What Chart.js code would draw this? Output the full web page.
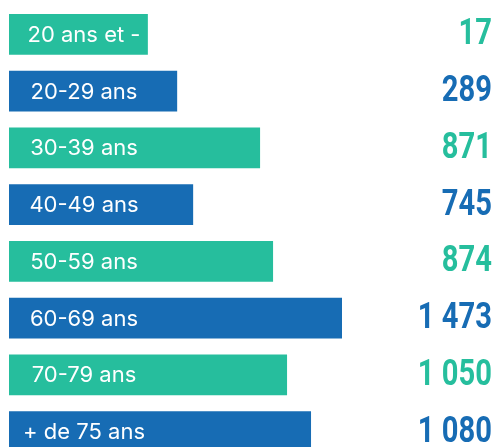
<!DOCTYPE html>
<html>
<head>
<meta charset="utf-8">
<script src="https://cdn.jsdelivr.net/npm/chart.js@4"></script>
<style>
  html, body { margin: 0; padding: 0; background: #fff; overflow: hidden; }
  #wrap { width: 495px; height: 447px; overflow: hidden; }
</style>
</head>
<body>
<div id="wrap"><canvas id="ageChart" width="495" height="460"></canvas></div>
<script>
// age groups and counts shown on the right
const ageGroups = ['20 ans et -', '20-29 ans', '30-39 ans', '40-49 ans', '50-59 ans', '60-69 ans', '70-79 ans', '+ de 75 ans'];
const counts = [17, 289, 871, 745, 874, 1473, 1050, 1080];
// bar lengths as drawn in the picture (longest bar = 100), they are not proportional to counts
const barLengths = [41.7, 50.5, 75.4, 55.3, 79.3, 100, 83.5, 90.7];

const green = '#26be9d';
const blue = '#176cb4';
const colors = ageGroups.map((g, i) => i % 2 === 0 ? green : blue);

function fmt(n) {
  return String(n).replace(/\B(?=(\d{3})+(?!\d))/g, ' ');
}

// draws the group name inside each bar and the count at the right
const textPlugin = {
  id: 'barText',
  afterDatasetsDraw(chart) {
    const ctx = chart.ctx;
    const meta = chart.getDatasetMeta(0);
    ctx.save();
    meta.data.forEach((bar, i) => {
      const y = bar.y;
      ctx.fillStyle = '#fff';
      ctx.font = '22px Inter';
      ctx.textAlign = 'center';
      ctx.textBaseline = 'middle';
      ctx.fillText(ageGroups[i], chart.chartArea.left + 75, y + 1);

      ctx.save();
      ctx.fillStyle = colors[i];
      ctx.font = 'bold 36px Roboto';
      ctx.textAlign = 'right';
      ctx.textBaseline = 'middle';
      ctx.translate(492, y + 1);
      ctx.scale(0.81, 1);
      ctx.fillText(fmt(counts[i]), 0, 0);
      ctx.restore();
    });
    ctx.restore();
  }
};

const ctx = document.getElementById('ageChart').getContext('2d');
new Chart(ctx, {
  type: 'bar',
  data: {
    labels: ageGroups,
    datasets: [{
      data: barLengths,
      backgroundColor: colors,
      borderWidth: 0,
      barPercentage: 0.722,
      categoryPercentage: 1
    }]
  },
  options: {
    indexAxis: 'y',
    responsive: false,
    animation: false,
    layout: { padding: { left: 9, right: 153, top: 6, bottom: 0 } },
    plugins: { legend: { display: false }, tooltip: { enabled: false } },
    scales: {
      x: { display: false, min: 0, max: 100 },
      y: { display: false }
    }
  },
  plugins: [textPlugin]
});
</script>
</body>
</html>
